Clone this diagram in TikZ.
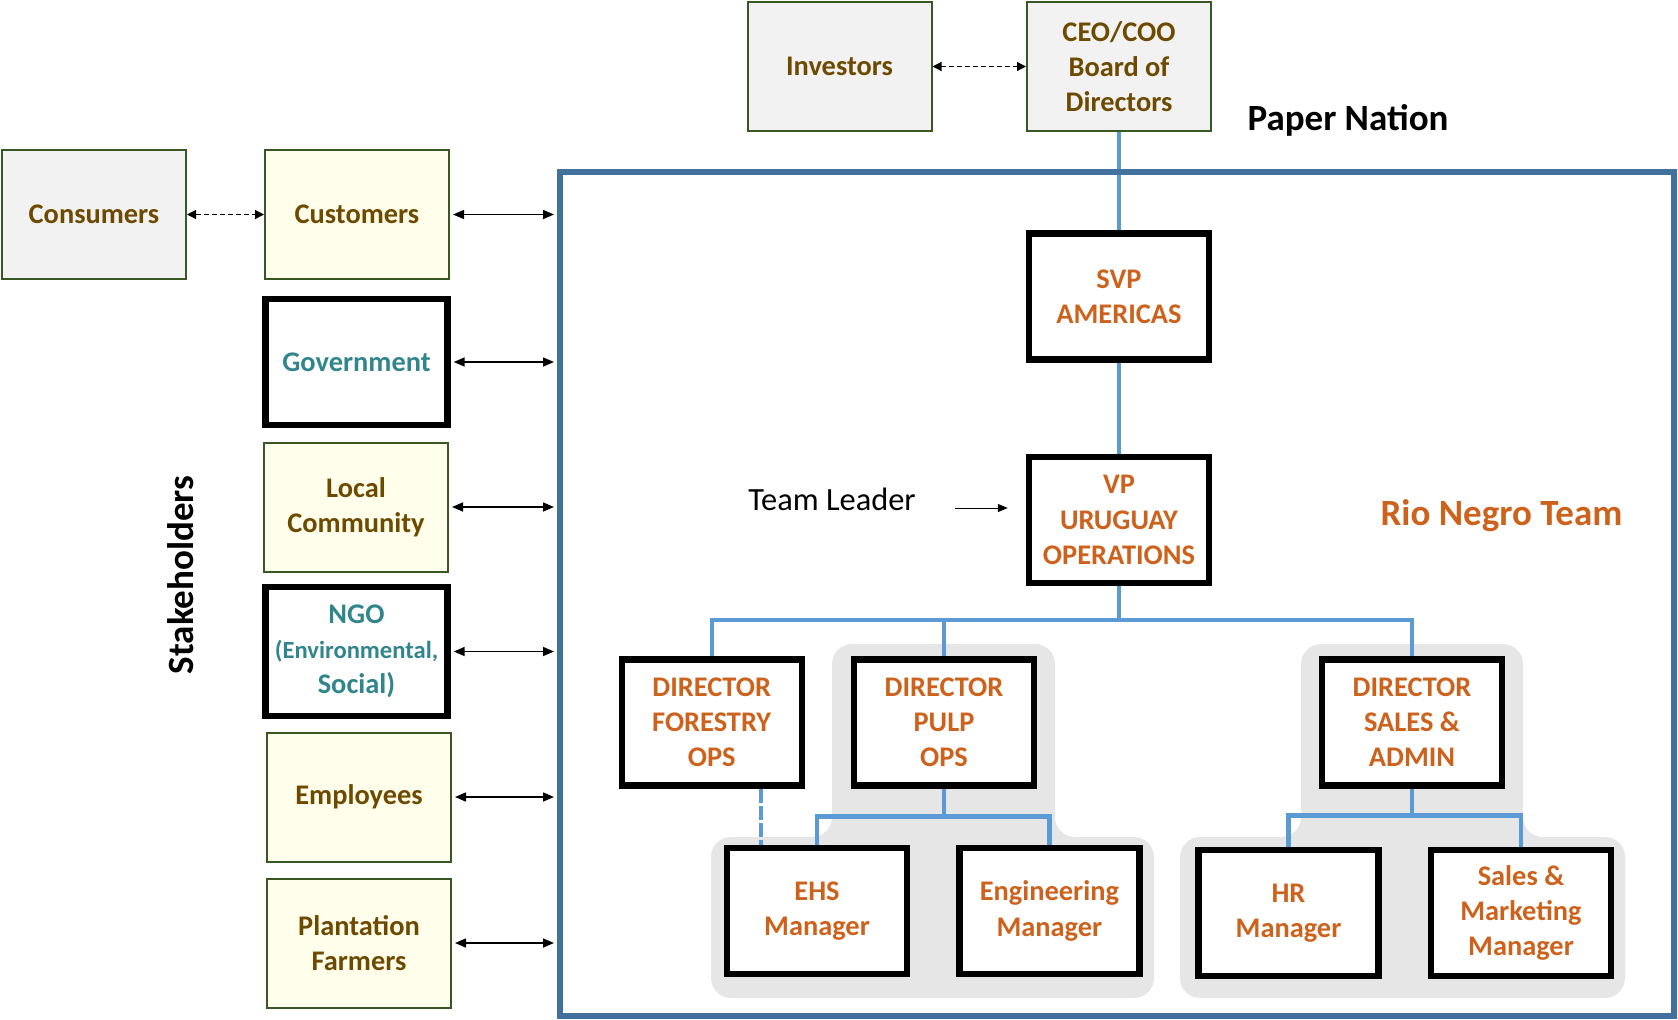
\documentclass[tikz,border=0pt]{standalone}
\usepackage{fontspec}
\setmainfont{Carlito}
\usetikzlibrary{arrows.meta,backgrounds}
\definecolor{brownText}{RGB}{110,74,0}
\definecolor{tealText}{RGB}{49,133,140}
\definecolor{orangeText}{RGB}{205,98,28}
\definecolor{greenLine}{RGB}{56,87,35}
\definecolor{paleYellow}{RGB}{255,255,235}
\definecolor{paleGrey}{RGB}{242,242,242}
\definecolor{frameBlue}{RGB}{65,113,156}
\definecolor{lineBlue}{RGB}{91,155,213}
\definecolor{groupGrey}{RGB}{230,230,230}

\begin{document}
\begin{tikzpicture}[x=0.5pt,y=-0.5pt,
	box/.style={rectangle,inner sep=0pt,align=center,font=\fontsize{14.2}{17.6}\selectfont\bfseries},
	greybox/.style={box,draw=greenLine,line width=1pt,fill=paleGrey,text=brownText,minimum width=92pt,minimum height=64.5pt},
	yellowbox/.style={greybox,fill=paleYellow},
	stakebox/.style={box,draw=black,line width=3.2pt,fill=white,text=tealText,minimum width=91pt,minimum height=63pt},
	orgbox/.style={stakebox,text=orangeText,minimum width=90pt},
	title/.style={font=\fontsize{18.5}{22}\selectfont\bfseries},
	link/.style={{Triangle[length=5.5pt,width=4.5pt]}-{Triangle[length=5.5pt,width=4.5pt]},line width=0.75pt,shorten <=1.5pt,shorten >=1.5pt},
	dashlink/.style={{Triangle[length=4.5pt,width=4.5pt]}-{Triangle[length=4.5pt,width=4.5pt]},line width=0.6pt,dash pattern=on 2.5pt off 1.5pt},
	pointer/.style={-{Triangle[length=5pt,width=4pt]},line width=0.5pt},
	orgline/.style={lineBlue,line width=2.2pt}]
\useasboundingbox (0,0) rectangle (1678,1019);
%frame
\node[draw=frameBlue,line width=3pt,inner sep=0pt,minimum width=557pt,minimum height=422pt] (paper) at (1117,594) {};
\node[title] (papertitle) at (1348,120) {Paper Nation};
\node[title,text=orangeText] (teamtitle) at (1501.5,516) {Rio Negro Team};
%stakeholders
\node[title,rotate=90] (stake) at (181,575) {Stakeholders};
\node[greybox] (cons) at (94,214.5) {Consumers};
\node[yellowbox] (cust) at (357,214.5) {Customers};
\node[stakebox] (gov) at (356.5,362) {Government};
\node[yellowbox] (loc) at (356,507) {Local\\Community};
\node[stakebox,minimum height=64.5pt] (ngo) at (356.5,651.5) {NGO\\\fontsize{12.3}{14.5}\selectfont(Environmental,\\Social)};
\node[yellowbox] (emp) at (359,797) {Employees};
\node[yellowbox] (farm) at (359,943) {Plantation\\Farmers};
\draw[dashlink] (cons) -- (cust);
\foreach \s in {cust,gov,loc,ngo,emp,farm} {
	\draw[link] (\s) -- (\s -| paper.west); }
%top
\node[greybox] (inv) at (839.5,66.5) {Investors};
\node[greybox] (ceo) at (1119,66.5) {CEO/COO\\Board of\\Directors};
\draw[dashlink] (inv) -- (ceo);
%team
\node[orgbox] (svp) at (1119,296.5) {SVP\\AMERICAS};
\node[orgbox] (vp) at (1119,520) {VP\\URUGUAY\\OPERATIONS};
\node[font=\fontsize{16.2}{19}\selectfont] (leader) at (832,499) {Team Leader};
\coordinate (tip) at ([xshift=-9pt,yshift=6pt]vp.west);
\draw[pointer] ([xshift=-26.5pt]tip) -- (tip);
\node[orgbox] (forestry) at (711.7,722.4) {DIRECTOR\\FORESTRY\\OPS};
\node[orgbox] (pulp) at (944,722.4) {DIRECTOR\\PULP\\OPS};
\node[orgbox] (salesdir) at (1412,722.4) {DIRECTOR\\SALES \&\\ADMIN};
\node[orgbox] (ehs) at (817,911) {EHS\\Manager};
\node[orgbox] (eng) at (1049.4,911) {Engineering\\Manager};
\node[orgbox] (hr) at (1288.5,913) {HR\\Manager};
\node[orgbox] (sm) at (1521,913) {Sales \&\\Marketing\\Manager};
%groups and lines
\begin{scope}[on background layer]
\fill[groupGrey,rounded corners=10pt] (832,644) -- (1055,644) -- (1055,837) -- (1154,837) -- (1154,998) -- (711,998) -- (711,837) -- (832,837) -- cycle;
\fill[groupGrey,rounded corners=10pt] (1301,644) -- (1523,644) -- (1523,837) -- (1625,837) -- (1625,998) -- (1180,998) -- (1180,837) -- (1301,837) -- cycle;
\draw[orgline] (ceo) -- (svp);
\draw[orgline] (svp) -- (vp);
\draw[orgline] (vp.south) -- ++(0,34) coordinate (vpbus) -| (forestry.north);
\draw[orgline] (vpbus) -| (pulp.north);
\draw[orgline] (vpbus) -| (salesdir.north);
\draw[orgline] (pulp.south) -- ++(0,28) coordinate (pulpbus) -| (ehs.north);
\draw[orgline] (pulpbus) -| (eng.north);
\draw[orgline] (salesdir.south) -- ++(0,27) coordinate (salesbus) -| (hr.north);
\draw[orgline] (salesbus) -| (sm.north);
\draw[orgline,dash pattern=on 7pt off 1.5pt] ([xshift=24.5pt]forestry.south) -- ([xshift=24.5pt]forestry.south |- ehs.north);
\end{scope}
\end{tikzpicture}
\end{document}
